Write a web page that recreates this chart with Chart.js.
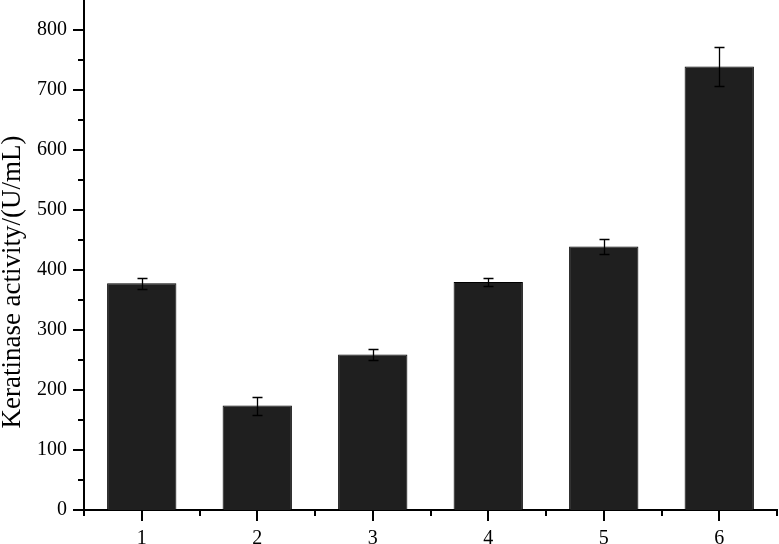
<!DOCTYPE html>
<html>
<head>
<meta charset="utf-8">
<script src="https://cdn.jsdelivr.net/npm/chart.js@4/dist/chart.umd.min.js"></script>
<style>
html,body{margin:0;padding:0;background:#fff;}
#wrap{width:779px;height:544px;position:relative;}
</style>
</head>
<body>
<div id="wrap"><canvas id="c" width="779" height="544"></canvas></div>
<script>
const categories = ['1','2','3','4','5','6'];
const activity = [378, 174, 259, 380, 439, 739];
const errors = [9, 15, 9, 6, 13, 33];
const yMajorTicks = [0,100,200,300,400,500,600,700,800];
const yMinorTicks = [50,150,250,350,450,550,650,750,850];
const yTitle = 'Keratinase activity/(U/mL)';

const FONT = 'Liberation Serif';

const errorBarPlugin = {
  id: 'errorBars',
  afterDatasetsDraw(chart) {
    const ctx = chart.ctx;
    const meta = chart.getDatasetMeta(0);
    const ys = chart.scales.y;
    ctx.save();
    ctx.strokeStyle = '#000';
    ctx.lineWidth = 1.3;
    meta.data.forEach((bar, i) => {
      const x = Math.round(bar.x) + 0.5;
      const top = Math.round(ys.getPixelForValue(activity[i] + errors[i])) + 0.5;
      const bot = Math.round(ys.getPixelForValue(activity[i] - errors[i])) + 0.5;
      ctx.beginPath();
      ctx.moveTo(x, top); ctx.lineTo(x, bot);
      ctx.moveTo(x - 5, top); ctx.lineTo(x + 5, top);
      ctx.moveTo(x - 5, bot); ctx.lineTo(x + 5, bot);
      ctx.stroke();
    });
    ctx.restore();
  }
};

const tickPlugin = {
  id: 'axisTicks',
  afterDraw(chart) {
    const ctx = chart.ctx;
    const xs = chart.scales.x, ys = chart.scales.y;
    const area = chart.chartArea;
    ctx.save();
    ctx.strokeStyle = '#000';
    ctx.lineWidth = 2;
    ctx.beginPath();
    yMajorTicks.forEach(v => {
      const y = Math.round(ys.getPixelForValue(v));
      ctx.moveTo(area.left - 11, y); ctx.lineTo(area.left, y);
    });
    yMinorTicks.forEach(v => {
      const y = Math.round(ys.getPixelForValue(v));
      if (y < area.top + 1) return;
      ctx.moveTo(area.left - 6, y); ctx.lineTo(area.left, y);
    });
    categories.forEach((c, i) => {
      const x = Math.round(xs.getPixelForValue(i));
      ctx.moveTo(x, area.bottom); ctx.lineTo(x, area.bottom + 11);
    });
    for (let i = 0; i <= categories.length; i++) {
      const x = Math.round(xs.getPixelForValue(i - 0.5));
      ctx.moveTo(x, area.bottom); ctx.lineTo(x, area.bottom + 6);
    }
    ctx.stroke();
    // y axis title
    ctx.fillStyle = '#000';
    ctx.font = '27px "' + FONT + '"';
    ctx.translate(20, 282);
    ctx.rotate(-Math.PI / 2);
    ctx.textAlign = 'center';
    ctx.textBaseline = 'alphabetic';
    ctx.fillText(yTitle, 0, 0);
    ctx.restore();
  }
};

new Chart(document.getElementById('c'), {
  type: 'bar',
  data: {
    labels: categories,
    datasets: [{
      data: activity,
      backgroundColor: '#1f1f1f',
      borderColor: '#000',
      borderWidth: 1,
      barPercentage: 0.6,
      categoryPercentage: 1.0
    }]
  },
  options: {
    responsive: false,
    animation: false,
    layout: { padding: { top: 0, right: 2, left: 0, bottom: 0 } },
    plugins: { legend: { display: false }, tooltip: { enabled: false } },
    scales: {
      x: {
        grid: { display: false },
        border: { display: true, color: '#000', width: 2 },
        ticks: { color: '#000', font: { family: FONT, size: 20 }, padding: 9, maxRotation: 0 },
        afterFit(s) { s.height = 34; s.paddingLeft = 0; s.paddingRight = 0; }
      },
      y: {
        min: 0, max: 850,
        grid: { display: false },
        border: { display: true, color: '#000', width: 2 },
        afterBuildTicks(s) { s.ticks = yMajorTicks.map(v => ({ value: v })); },
        ticks: { color: '#000', font: { family: FONT, size: 20 }, padding: 9 },
        afterFit(s) { s.width = 84; s.paddingTop = 0; s.paddingBottom = 0; }
      }
    }
  },
  plugins: [errorBarPlugin, tickPlugin]
});
</script>
</body>
</html>
